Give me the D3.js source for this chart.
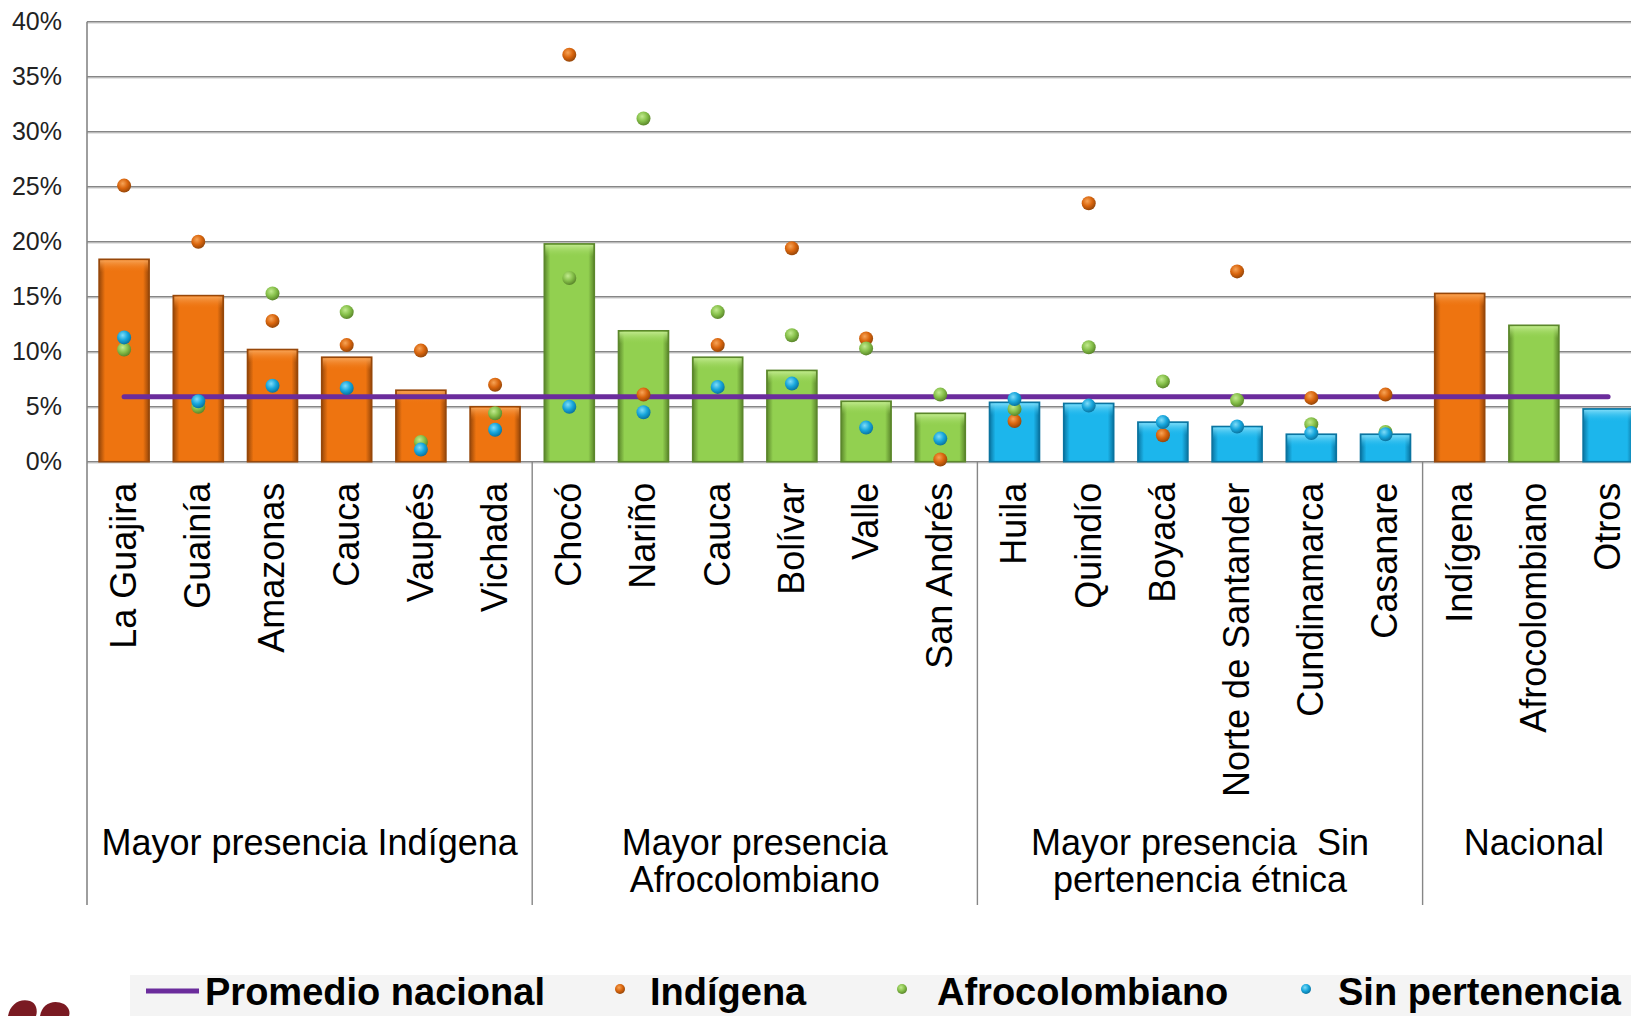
<!DOCTYPE html>
<html>
<head>
<meta charset="utf-8">
<script src="https://cdn.jsdelivr.net/npm/d3@7"></script>
<style>
  html, body { margin: 0; padding: 0; background: #ffffff; }
  svg { display: block; }
  text { font-family: "Liberation Sans", Arial, sans-serif; }
</style>
</head>
<body>
<script>
// ---------------- DATA ----------------
const categories = ["La Guajira","Guainía","Amazonas","Cauca","Vaupés","Vichada",
  "Chocó","Nariño","Cauca","Bolívar","Valle","San Andrés",
  "Huila","Quindío","Boyacá","Norte de Santander","Cundinamarca","Casanare",
  "Indígena","Afrocolombiano","Otros"];
const groups = ["Mayor presencia Indígena", "Mayor presencia|Afrocolombiano",
  "Mayor presencia  Sin|pertenencia étnica", "Nacional"];
const groupSizes = [6, 6, 6, 3];
const barEthnicity = ["Indígena","Indígena","Indígena","Indígena","Indígena","Indígena",
  "Afrocolombiano","Afrocolombiano","Afrocolombiano","Afrocolombiano","Afrocolombiano","Afrocolombiano",
  "Sin pertenencia","Sin pertenencia","Sin pertenencia","Sin pertenencia","Sin pertenencia","Sin pertenencia",
  "Indígena","Afrocolombiano","Sin pertenencia"];
const barValues = [18.4,15.1,10.2,9.5,6.5,5.0, 19.8,11.9,9.5,8.3,5.5,4.4, 5.4,5.3,3.6,3.2,2.5,2.5, 15.3,12.4,4.8];
const indigena = [25.1,20.0,12.8,10.6,10.1,7.0, 37.0,6.1,10.6,19.4,11.2,0.2, 3.7,23.5,2.4,17.3,5.8,6.1, null,null,null];
const afrocolombiano = [10.2,5.0,15.3,13.6,1.8,4.4, 16.7,31.2,13.6,11.5,10.3,6.1, 4.8,10.4,7.3,5.6,3.4,2.7, null,null,null];
const sinPertenencia = [11.3,5.5,6.9,6.7,1.1,2.9, 5.0,4.5,6.8,7.1,3.1,2.1, 5.7,5.1,3.6,3.2,2.6,2.5, null,null,null];
const promedioNacional = 5.9;
const yTicks = [0,5,10,15,20,25,30,35,40];
const legendLabels = ["Promedio nacional","Indígena","Afrocolombiano","Sin pertenencia"];

// ---------------- LAYOUT ----------------
const W = 1631, H = 1016;
const plotLeft = 87, step = 74.2;
const y0 = 461.7, yTop = 21.7, axisBottomY = 905;

const svg = d3.select("body").append("svg").attr("width", W).attr("height", H);
const defs = svg.append("defs");

const palette = {
  "Indígena":        {base:"#ee7410", dark:"#974709", light:"#f7a457", dot:"#d9650d"},
  "Afrocolombiano":  {base:"#92d050", dark:"#5b872b", light:"#c2ea8f", dot:"#86c04a"},
  "Sin pertenencia": {base:"#1cb6ec", dark:"#0a74a0", light:"#7fdcf8", dot:"#17a6dc"}
};
const keys = Object.keys(palette);
const safe = k => k.replace(/[^a-zA-Z]/g, "");

keys.forEach(k => {
  const p = palette[k];
  const lg = defs.append("linearGradient").attr("id", "bar" + safe(k))
    .attr("x1", 0).attr("x2", 1).attr("y1", 0).attr("y2", 0);
  lg.append("stop").attr("offset", "0%").attr("stop-color", p.dark);
  lg.append("stop").attr("offset", "12%").attr("stop-color", p.base);
  lg.append("stop").attr("offset", "88%").attr("stop-color", p.base);
  lg.append("stop").attr("offset", "100%").attr("stop-color", p.dark);
  const tg = defs.append("linearGradient").attr("id", "top" + safe(k))
    .attr("x1", 0).attr("x2", 0).attr("y1", 0).attr("y2", 1);
  tg.append("stop").attr("offset", "0%").attr("stop-color", p.light).attr("stop-opacity", 0.95);
  tg.append("stop").attr("offset", "100%").attr("stop-color", p.base).attr("stop-opacity", 0);
  const rg = defs.append("radialGradient").attr("id", "dot" + safe(k))
    .attr("cx", "40%").attr("cy", "35%").attr("r", "65%");
  rg.append("stop").attr("offset", "0%").attr("stop-color", p.light);
  rg.append("stop").attr("offset", "55%").attr("stop-color", p.dot);
  rg.append("stop").attr("offset", "100%").attr("stop-color", p.dark);
});

const x = d3.scaleBand()
  .domain(d3.range(categories.length))
  .range([plotLeft, plotLeft + step * categories.length])
  .paddingInner(0.326).paddingOuter(0.163);
const y = d3.scaleLinear().domain([0, 40]).range([y0, yTop]);

// gridlines
svg.append("g").selectAll("line.grid").data(yTicks).join("line")
  .attr("x1", plotLeft).attr("x2", W)
  .attr("y1", d => y(d) + 1.5).attr("y2", d => y(d) + 1.5)
  .attr("stroke", "#e4e4e4").attr("stroke-width", 1.5);
svg.append("g").selectAll("line.grid").data(yTicks).join("line")
  .attr("x1", plotLeft).attr("x2", W)
  .attr("y1", d => y(d)).attr("y2", d => y(d))
  .attr("stroke", "#868686").attr("stroke-width", 1.6);

// left axis line and group dividers
svg.append("line").attr("x1", plotLeft).attr("x2", plotLeft)
  .attr("y1", y(40)).attr("y2", axisBottomY)
  .attr("stroke", "#868686").attr("stroke-width", 1.6);
let acc = 0;
const boundaries = [];
groupSizes.forEach((n, gi) => {
  acc += n;
  if (gi < groupSizes.length - 1) boundaries.push(acc);
});
const gap = x.step() - x.bandwidth();
svg.append("g").selectAll("line").data(boundaries).join("line")
  .attr("x1", d => x(d) - gap / 2).attr("x2", d => x(d) - gap / 2)
  .attr("y1", y0).attr("y2", axisBottomY)
  .attr("stroke", "#868686").attr("stroke-width", 1.4);

// y axis labels
const yAxis = svg.append("g").attr("transform", `translate(${plotLeft},0)`)
  .call(d3.axisLeft(y).tickValues(yTicks).tickSize(0).tickPadding(25).tickFormat(d => d + "%"));
yAxis.select(".domain").remove();
yAxis.selectAll("text").attr("font-size", 25).attr("fill", "#222")
  .style("font-family", "'Liberation Sans', Arial, sans-serif");

// bars
const barG = svg.append("g");
const bars = barG.selectAll("g").data(barValues.map((v, i) => ({v, i, k: barEthnicity[i]}))).join("g");
bars.append("rect")
  .attr("x", d => x(d.i)).attr("y", d => y(d.v))
  .attr("width", x.bandwidth()).attr("height", d => y(0) - y(d.v))
  .attr("fill", d => `url(#bar${safe(d.k)})`)
  .attr("stroke", d => palette[d.k].dark).attr("stroke-width", 1.6);
bars.append("rect")
  .attr("x", d => x(d.i) + 1).attr("y", d => y(d.v) + 1)
  .attr("width", x.bandwidth() - 2).attr("height", d => Math.min(12, y(0) - y(d.v) - 2))
  .attr("fill", d => `url(#top${safe(d.k)})`);

// category axis
const xAxis = svg.append("g").attr("transform", `translate(0,${y0})`)
  .call(d3.axisBottom(x).tickSize(0).tickFormat(i => categories[i]));
xAxis.select(".domain").remove();
xAxis.selectAll("text")
  .attr("transform", "rotate(-90)")
  .attr("text-anchor", "end")
  .attr("x", -21).attr("y", 0).attr("dy", "0.33em")
  .attr("font-size", 36).attr("fill", "#000")
  .style("font-family", "'Liberation Sans', Arial, sans-serif");

// group labels
acc = 0;
const groupData = groups.map((g, gi) => {
  const s = acc; acc += groupSizes[gi];
  const cx = (x(s) - gap / 2 + x(acc - 1) + x.bandwidth() + gap / 2) / 2;
  return {lines: g.split("|"), cx};
});
const gl = svg.append("g").selectAll("text").data(groupData).join("text")
  .attr("x", d => d.cx).attr("y", 855)
  .attr("text-anchor", "middle").attr("font-size", 36).attr("fill", "#000")
  .style("white-space", "pre");
gl.selectAll("tspan").data(d => d.lines.map(t => ({t, cx: d.cx}))).join("tspan")
  .attr("x", d => d.cx).attr("dy", (d, i) => i === 0 ? 0 : 37).text(d => d.t);

// promedio nacional line
svg.append("line")
  .attr("x1", x(0) + x.bandwidth() / 2).attr("x2", x(categories.length - 1) + x.bandwidth() / 2)
  .attr("y1", y(promedioNacional)).attr("y2", y(promedioNacional))
  .attr("stroke", "#6b2c9c").attr("stroke-width", 5).attr("stroke-linecap", "round");

// dots
const dotSeries = [
  {k: "Indígena", vals: indigena},
  {k: "Afrocolombiano", vals: afrocolombiano},
  {k: "Sin pertenencia", vals: sinPertenencia}
];
dotSeries.forEach(s => {
  svg.append("g").selectAll("circle")
    .data(s.vals.map((v, i) => ({v, i})).filter(d => d.v !== null))
    .join("circle")
    .attr("cx", d => x(d.i) + x.bandwidth() / 2)
    .attr("cy", d => y(d.v))
    .attr("r", 7)
    .attr("fill", `url(#dot${safe(s.k)})`);
});

// legend
const lg = svg.append("g");
lg.append("rect").attr("x", 130).attr("y", 975).attr("width", W - 130).attr("height", H - 975)
  .attr("fill", "#f4f4f4");
lg.append("line").attr("x1", 146).attr("x2", 199).attr("y1", 991).attr("y2", 991)
  .attr("stroke", "#6b2c9c").attr("stroke-width", 5);
const legendTextX = [205, 650, 937, 1338];
const legendDotX = [null, 620, 902, 1306];
const legendKeys = [null, "Indígena", "Afrocolombiano", "Sin pertenencia"];
legendLabels.forEach((t, i) => {
  lg.append("text").attr("x", legendTextX[i]).attr("y", 1005)
    .attr("font-size", 38).attr("font-weight", "bold").attr("fill", "#000")
    .text(t);
  if (legendDotX[i] !== null) {
    lg.append("circle").attr("cx", legendDotX[i]).attr("cy", 989).attr("r", 5)
      .attr("fill", `url(#dot${safe(legendKeys[i])})`);
  }
});

// logo fragment (bottom-left corner)
const logo = svg.append("g").attr("fill", "#7a1a22");
logo.append("path").attr("d", "M8,1016 C10,1004 20,998 30,1001 C36,1003 38,1010 36,1016 Z");
logo.append("path").attr("d", "M40,1016 C42,1003 54,999 64,1004 C70,1008 70,1013 69,1016 Z");
</script>
</body>
</html>
